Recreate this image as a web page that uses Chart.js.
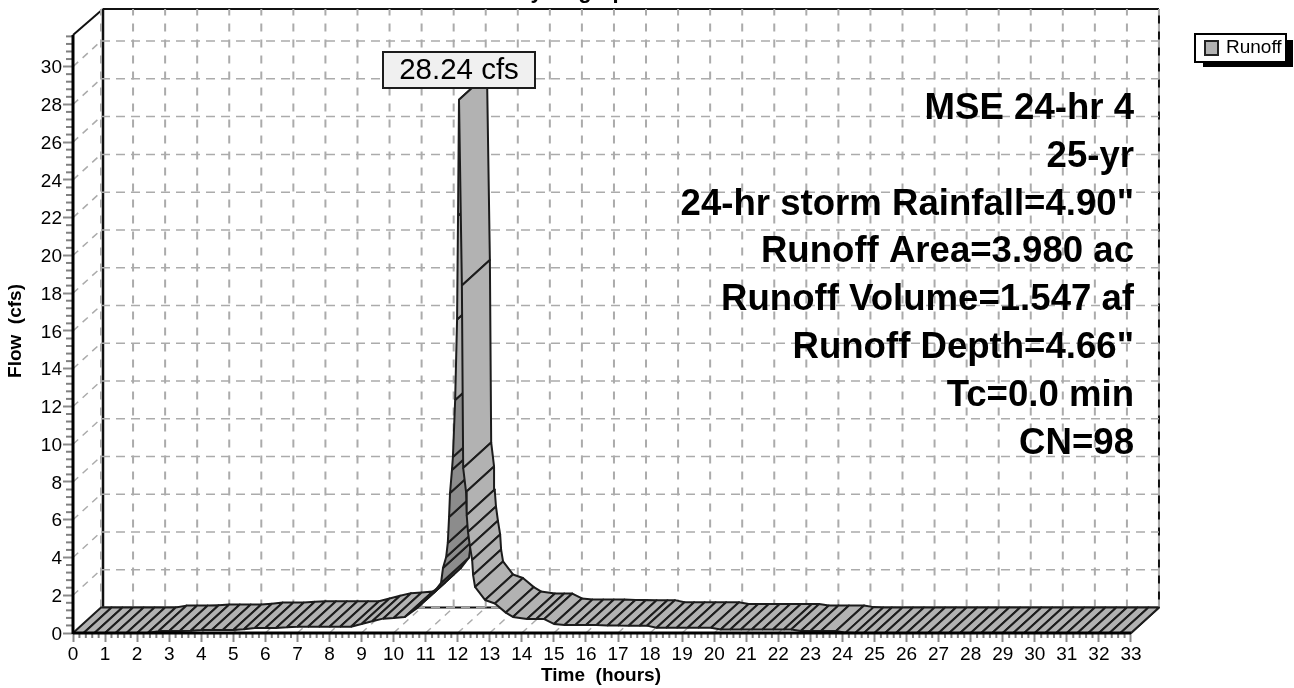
<!DOCTYPE html>
<html>
<head>
<meta charset="utf-8">
<title>Hydrograph</title>
<script src="https://cdn.jsdelivr.net/npm/chart.js@4"></script>
<style>
  body { margin: 0; background: #fff; }
  canvas { display: block; }
</style>
</head>
<body>
<canvas id="hydro_chart" width="1294" height="688"></canvas>
<script>
// hydrograph values
const xTicks = [0,1,2,3,4,5,6,7,8,9,10,11,12,13,14,15,16,17,18,19,20,21,22,23,24,25,26,27,28,29,30,31,32,33];
const yTicks = [0,2,4,6,8,10,12,14,16,18,20,22,24,26,28,30];
const times = [0,0.33,0.67,1,1.33,1.67,2,2.33,2.67,3,3.33,3.67,4,4.33,4.67,5,5.33,5.67,6,6.33,6.67,7,7.33,7.67,8,8.33,8.67,9,9.33,9.67,10,10.35,10.73,11,11.23,11.48,
  11.54,11.64,11.69,11.73,11.76,11.82,11.85,11.92,11.98,12.01,12.04,
  12.13,12.17,12.26,12.28,12.32,12.38,12.45,12.48,12.54,12.85,13.16,13.5,13.72,14.16,14.45,14.7,15,15.33,15.67,16,16.33,16.67,17,17.33,17.67,17.9,18.2,18.5,18.83,19.17,19.5,19.9,20.2,20.5,20.83,21.17,21.5,21.83,22.17,22.4,22.7,23,23.33,23.8,24.1,24.4,24.67,25,25.33,25.67,26,26.33,26.67,27,27.33,27.67,28,28.33,28.67,29,29.33,29.67,30,30.33,30.67,31,31.33,31.67,32,32.33,32.67,33];
const flow = [0,0,0,0,0,0,0,0,0.1,0.1,0.1,0.12,0.16,0.16,0.16,0.16,0.2,0.26,0.26,0.26,0.3,0.33,0.33,0.33,0.33,0.33,0.33,0.48,0.62,0.76,0.8,0.85,1.32,1.75,2.1,2.65,
  3.44,4.03,4.77,6.14,7.41,8.63,9.32,12.34,16.6,22.1,28.24,
  18.4,8.74,7.47,6.25,5.35,4.6,3.87,3.07,2.44,1.75,1.56,1.08,0.85,0.74,0.74,0.74,0.48,0.42,0.42,0.42,0.42,0.4,0.4,0.39,0.39,0.39,0.28,0.28,0.28,0.28,0.28,0.28,0.19,0.19,0.19,0.19,0.19,0.19,0.19,0.19,0.11,0.11,0.11,0.11,0.02,0,0,0,0,0,0,0,0,0,0,0,0,0,0,0,0,0,0,0,0,0,0,0,0,0,0,0];
const infoLines = ['MSE 24-hr 4','25-yr','24-hr storm Rainfall=4.90"','Runoff Area=3.980 ac','Runoff Volume=1.547 af','Runoff Depth=4.66"','Tc=0.0 min','CN=98'];
const peakLabel = '28.24 cfs';
const seriesName = 'Runoff';

const fontFam = '"Liberation Sans", Arial, sans-serif';
const depthX = 28, depthY = 25.5;   // pixels of the 3d offset
const hrPx = 32.06, cfsPx = 18.88;
const depthT = depthX / hrPx, depthV = depthY / cfsPx;

// one dataset per slat of the ribbon, closed quad from front edge to back edge
function buildQuads() {
  const peak = flow.indexOf(Math.max.apply(null, flow));
  const n = times.length - 1;
  const sets = [];
  for (let i = 0; i < n; i++) {
    const a = {x: times[i], y: flow[i]};
    const b = {x: times[i+1], y: flow[i+1]};
    const rising = i >= 35 && i < peak;
    sets.push({
      data: [a, b, {x: b.x + depthT, y: b.y + depthV}, {x: a.x + depthT, y: a.y + depthV}, a],
      borderColor: '#1c1c1c',
      borderWidth: 2,
      backgroundColor: rising && flow[i] < 9.5 ? '#8c8c8c' : '#b2b2b2',
      fill: 'shape',
      showLine: true,
      pointRadius: 0,
      tension: 0,
      clip: false,
      borderJoinStyle: 'round',
      order: n - i
    });
  }
  return sets;
}

function line(ctx, x1, y1, x2, y2) {
  ctx.beginPath(); ctx.moveTo(x1, y1); ctx.lineTo(x2, y2); ctx.stroke();
}

// back wall, floor and the dashed grid go under the ribbon
const wallPlugin = {
  id: 'wall',
  beforeDatasetsDraw(chart) {
    const ctx = chart.ctx, sx = chart.scales.x, sy = chart.scales.y;
    const x0 = sx.getPixelForValue(0), y0 = sy.getPixelForValue(0);
    const xEnd = sx.getPixelForValue(33), top = chart.chartArea.top;
    const backL = x0 + depthX, backR = xEnd + depthX, backB = y0 - depthY;
    ctx.save();
    // solid frame
    ctx.strokeStyle = '#111';
    ctx.lineWidth = 2;
    line(ctx, x0 + 30, top, backR, top);
    line(ctx, x0, 35, x0 + 30, top);
    ctx.lineWidth = 2.5;
    line(ctx, x0 + 30, top, x0 + 30, backB);
    ctx.lineWidth = 2;
    line(ctx, backR, top, backR, backB);
    line(ctx, x0 + 30, backB, backR, backB);
    line(ctx, xEnd, y0, backR, backB);
    // grid
    ctx.strokeStyle = '#ababab';
    ctx.lineWidth = 2;
    ctx.setLineDash([8, 8]);
    xTicks.forEach(t => {
      const px = sx.getPixelForValue(t) + depthX;
      line(ctx, px, backB, px, top);
    });
    ctx.lineWidth = 1.5;
    ctx.setLineDash([9, 6]);
    yTicks.forEach(v => {
      const py = sy.getPixelForValue(v) - depthY;
      line(ctx, backL, py, backR, py);
    });
    ctx.setLineDash([7, 6]);
    yTicks.forEach(v => {
      const py = sy.getPixelForValue(v);
      if (v > 0) line(ctx, x0, py, backL, py - depthY);
    });
    xTicks.forEach(t => {
      const px = sx.getPixelForValue(t);
      if (t > 0 && t < 33) line(ctx, px, y0, px + depthX, backB);
    });
    ctx.restore();
  },
  // axis lines, small ticks, labels and legend go on top
  afterDatasetsDraw(chart) {
    const ctx = chart.ctx, sx = chart.scales.x, sy = chart.scales.y;
    const x0 = sx.getPixelForValue(0), y0 = sy.getPixelForValue(0), xEnd = sx.getPixelForValue(33);
    ctx.save();
    // minor ticks
    ctx.strokeStyle = '#808080';
    ctx.lineWidth = 2;
    xTicks.forEach(t => {
      if (t === 33) return;
      for (let k = 1; k < 5; k++) {
        const px = sx.getPixelForValue(t + k / 5);
        line(ctx, px, y0, px, y0 + 5);
      }
    });
    yTicks.forEach(v => {
      for (let k = 1; k < 5; k++) {
        const py = sy.getPixelForValue(v + k * 0.4);
        line(ctx, x0 - 7, py, x0, py);
      }
    });
    ctx.strokeStyle = '#000';
    ctx.lineWidth = 3;
    line(ctx, x0, y0, xEnd, y0);
    line(ctx, x0, 35, x0, y0 + 1);

    // peak label
    ctx.fillStyle = '#f0f0f0';
    ctx.strokeStyle = '#1c1c1c';
    ctx.lineWidth = 2;
    ctx.fillRect(383, 52, 152, 36);
    ctx.strokeRect(383, 52, 152, 36);
    ctx.fillStyle = '#000';
    ctx.font = '29.5px ' + fontFam;
    ctx.textAlign = 'center';
    ctx.textBaseline = 'middle';
    ctx.fillText(peakLabel, 459, 71);

    // info block
    ctx.font = 'bold 36.6px ' + fontFam;
    ctx.textAlign = 'right';
    infoLines.forEach((s, i) => ctx.fillText(s, 1134, 109 + i * 47.8));

    // clipped title
    ctx.font = 'bold 22px ' + fontFam;
    ctx.textAlign = 'center';
    ctx.textBaseline = 'alphabetic';
    ctx.fillText('Hydrograph', 577, -2);

    // axis titles
    ctx.font = 'bold 19px ' + fontFam;
    ctx.textBaseline = 'middle';
    ctx.fillText('Time  (hours)', 601, 676);
    ctx.save();
    ctx.translate(16, 331);
    ctx.rotate(-Math.PI / 2);
    ctx.fillText('Flow  (cfs)', 0, 0);
    ctx.restore();

    // legend
    ctx.fillStyle = '#000';
    ctx.fillRect(1203, 40, 90, 27);
    ctx.fillStyle = '#fff';
    ctx.fillRect(1195, 34, 91, 28);
    ctx.strokeStyle = '#000';
    ctx.lineWidth = 2;
    ctx.strokeRect(1195, 34, 91, 28);
    ctx.fillStyle = '#b2b2b2';
    ctx.strokeStyle = '#222';
    ctx.fillRect(1205, 41, 13, 14);
    ctx.strokeRect(1205, 41, 13, 14);
    ctx.fillStyle = '#000';
    ctx.font = '19px ' + fontFam;
    ctx.textAlign = 'left';
    ctx.fillText(seriesName, 1226, 48);
    ctx.restore();
  }
};

new Chart(document.getElementById('hydro_chart').getContext('2d'), {
  type: 'scatter',
  data: { datasets: buildQuads() },
  plugins: [wallPlugin],
  options: {
    responsive: false,
    animation: false,
    layout: { padding: { top: 9, right: 135, left: 0, bottom: 0 } },
    plugins: { legend: { display: false }, tooltip: { enabled: false }, title: { display: false } },
    scales: {
      x: {
        type: 'linear',
        min: 0,
        max: 1086 / hrPx,
        afterFit(s) { s.height = 55; s.paddingLeft = 0; s.paddingRight = 0; },
        afterBuildTicks(s) { s.ticks = xTicks.map(v => ({value: v})); },
        border: { display: false },
        grid: { drawOnChartArea: false, tickLength: 9, tickColor: '#8a8a8a', tickWidth: 2 },
        ticks: { color: '#000', font: { family: fontFam, size: 19 }, padding: 1, maxRotation: 0, autoSkip: false }
      },
      y: {
        type: 'linear',
        min: 0,
        max: 624 / cfsPx,
        afterFit(s) { s.width = 73; s.paddingTop = 0; s.paddingBottom = 0; },
        afterBuildTicks(s) { s.ticks = yTicks.map(v => ({value: v})); },
        border: { display: false },
        grid: { drawOnChartArea: false, tickLength: 10, tickColor: '#8a8a8a', tickWidth: 2 },
        ticks: { color: '#000', font: { family: fontFam, size: 19 }, padding: 1, labelOffset: 1.5, autoSkip: false }
      }
    }
  }
});
</script>
</body>
</html>
